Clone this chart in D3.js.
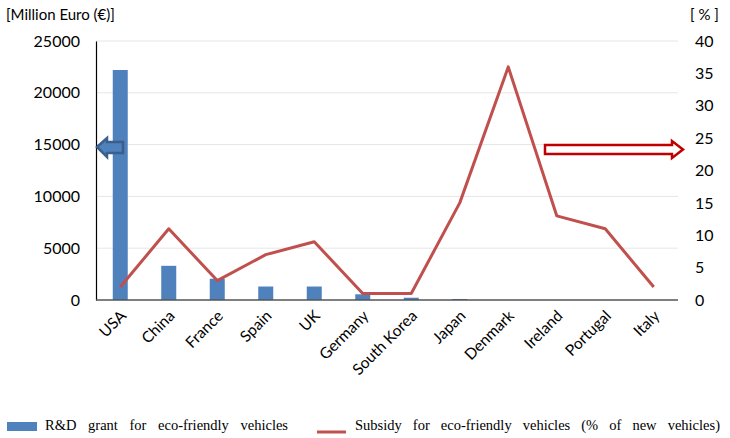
<!DOCTYPE html>
<html><head><meta charset="utf-8">
<script src="https://cdn.jsdelivr.net/npm/d3@7"></script>
<style>body{margin:0;background:#fff}svg{display:block}</style>
</head><body>
<svg id="c" width="730" height="438"></svg>
<script>
const categories = ["USA","China","France","Spain","UK","Germany","South Korea","Japan","Denmark","Ireland","Portugal","Italy"];
const rdGrant = [22200,3300,2050,1300,1300,550,220,100,0,0,0,0];
const subsidy = [2,11,3,7,9,1,1,15,36,13,11,2];
const leftTicks = [0,5000,10000,15000,20000,25000];
const rightTicks = [0,5,10,15,20,25,30,35,40];
const leftTitle = "[Million Euro (€)]";
const rightTitle = "[ % ]";
const legendLabels = ["R&D grant for eco-friendly vehicles","Subsidy for eco-friendly vehicles (% of new vehicles)"];

const svg = d3.select("#c");
const L = 96, R = 678, T = 41, B = 300;
const font = "Lato, 'Open Sans', sans-serif";
const x = d3.scaleBand().domain(categories).range([L, R]);
const yL = d3.scaleLinear().domain([0,25000]).range([B, T]);
const yR = d3.scaleLinear().domain([0,40]).range([B, T]);

// gridlines
svg.append("g").selectAll("line").data(leftTicks.slice(1)).join("line")
  .attr("x1", L).attr("x2", R).attr("y1", d=>yL(d)).attr("y2", d=>yL(d))
  .attr("stroke","#e6e6e6").attr("stroke-width",1);

// bars
const bw = 15;
svg.append("g").selectAll("rect").data(rdGrant).join("rect")
  .attr("x",(d,i)=>x(categories[i])+x.bandwidth()/2-bw/2)
  .attr("width",bw)
  .attr("y",d=>yL(d)).attr("height",d=>B-yL(d))
  .attr("fill","#4f81bd");

// line
const line = d3.line().x((d,i)=>x(categories[i])+x.bandwidth()/2).y(d=>yR(d));
svg.append("path").datum(subsidy).attr("d",line).attr("fill","none")
  .attr("stroke","#c0504d").attr("stroke-width",3).attr("stroke-linejoin","round");

// axes
const gl = svg.append("g").attr("transform",`translate(${L},0)`)
  .call(d3.axisLeft(yL).tickValues(leftTicks).tickFormat(d3.format("d")).tickSize(0).tickPadding(16));
gl.select(".domain").attr("stroke","#000").attr("stroke-width",1.2);
gl.selectAll("text").attr("font-family",font).attr("font-size",16).attr("fill","#000");

const gr = svg.append("g").attr("transform",`translate(${R},0)`)
  .call(d3.axisRight(yR).tickValues(rightTicks).tickFormat(d3.format("d")).tickSize(0).tickPadding(17));
gr.select(".domain").remove();
gr.selectAll("text").attr("font-family",font).attr("font-size",16).attr("fill","#000");

const gx = svg.append("g").attr("transform",`translate(0,${B})`)
  .call(d3.axisBottom(x).tickSize(0).tickPadding(0));
gx.select(".domain").attr("stroke","#555").attr("stroke-width",1.5).attr("d",`M${L},0H${R}`);
gx.selectAll("text").attr("font-family",font).attr("font-size",15.5).attr("fill","#000")
  .attr("text-anchor","end").attr("dy","0.35em")
  .attr("transform","translate(3,13) rotate(-45)");

// titles
svg.append("text").attr("x",6).attr("y",20).text(leftTitle)
  .attr("font-family",font).attr("font-size",15);
svg.append("text").attr("x",690).attr("y",20).text(rightTitle)
  .attr("font-family",font).attr("font-size",15);

// blue arrow (pointing left)
svg.append("path")
  .attr("d","M97,147 L107,138 L107,142 L123,142 L123,153 L107,153 L107,157 Z")
  .attr("fill","#4f81bd").attr("stroke","#3a5f8c").attr("stroke-width",2.5).attr("stroke-linejoin","miter");

// red arrow (pointing right)
svg.append("path")
  .attr("d","M545,145 L672,145 L672,141 L683,149.5 L672,158 L672,154 L545,154 Z")
  .attr("fill","#fff").attr("stroke","#c00000").attr("stroke-width",2.5).attr("stroke-linejoin","miter");

// legend
const lf = "'Liberation Serif', 'Times New Roman', serif";
function fitWords(sel, target){
  const n = sel.node().getComputedTextLength();
  const k = (sel.text().match(/ /g)||[]).length;
  sel.attr("word-spacing", Math.max(0,(target-n)/k));
}
svg.append("rect").attr("x",7).attr("y",422).attr("width",30).attr("height",9).attr("fill","#4f81bd");
const t1 = svg.append("text").attr("x",45).attr("y",430).text(legendLabels[0])
  .attr("font-family",lf).attr("font-size",14.5);
fitWords(t1, 243);
svg.append("line").attr("x1",317).attr("x2",346).attr("y1",432).attr("y2",432)
  .attr("stroke","#c0504d").attr("stroke-width",3);
const t2 = svg.append("text").attr("x",355).attr("y",430).text(legendLabels[1])
  .attr("font-family",lf).attr("font-size",14.5);
fitWords(t2, 365);
</script>
</body></html>
